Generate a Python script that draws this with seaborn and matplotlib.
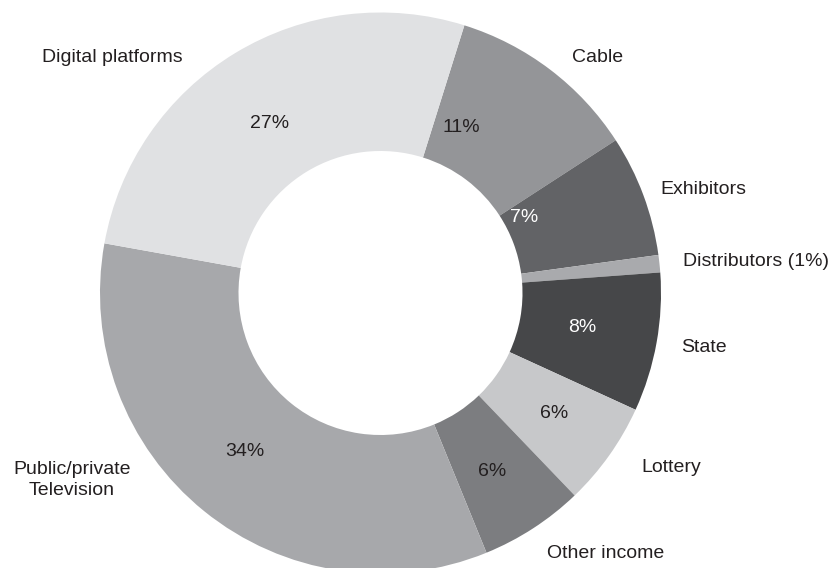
import matplotlib
matplotlib.use("Agg")
import matplotlib.pyplot as plt
import seaborn as sns

# Shares of funding sources (percent), clockwise from the top
categories = ["Cable", "Exhibitors", "Distributors", "State", "Lottery",
              "Other income", "Public/private Television", "Digital platforms"]
shares = [11, 7, 1, 8, 6, 6, 34, 27]
slice_colors = ["#949598", "#626366", "#a9aaad", "#464749", "#c7c8ca",
                "#7c7d80", "#a7a8ab", "#e0e1e3"]
pct_text_colors = ["#231f20", "#ffffff", None, "#ffffff", "#231f20",
                   "#231f20", "#231f20", "#231f20"]

# Category label text and placement (figure pixels, origin top-left)
cat_labels = ["Cable", "Exhibitors", "Distributors (1%)", "State", "Lottery",
              "Other income", "Public/private\nTelevision", "Digital platforms"]
cat_label_xy = [(598, 57), (703, 189), (756, 262), (704, 347), (671, 468),
                (606, 553), (72, 480), (112, 57)]
pct_label_xy = [(461, 127), (524, 218), None, (582, 328), (554, 413),
                (492, 471), (245, 452), (270, 123)]

W, H = 832, 568
CENTER = (380.5, H - 293)
R_OUT, R_IN = 280.5, 142

sns.set_theme(style="white")
plt.rcParams["font.family"] = ["Liberation Sans", "DejaVu Sans"]

fig = plt.figure(figsize=(W / 100, H / 100), dpi=100)
ax = fig.add_axes([0, 0, 1, 1])

ax.pie(shares, colors=slice_colors, startangle=72.6, counterclock=False,
       center=CENTER, radius=R_OUT, frame=True,
       wedgeprops=dict(width=R_OUT - R_IN, linewidth=0))

ax.set_xlim(0, W)
ax.set_ylim(0, H)
ax.set_aspect("equal")
ax.axis("off")

for share, xy, col in zip(shares, pct_label_xy, pct_text_colors):
    if xy is None:
        continue
    ax.text(xy[0], H - xy[1], f"{share}%", color=col, fontsize=14,
            ha="center", va="center")

for text, xy in zip(cat_labels, cat_label_xy):
    ax.text(xy[0], H - xy[1], text, color="#231f20", fontsize=14,
            ha="center", va="center", linespacing=1.25)

fig.savefig("out.png", dpi=100)
